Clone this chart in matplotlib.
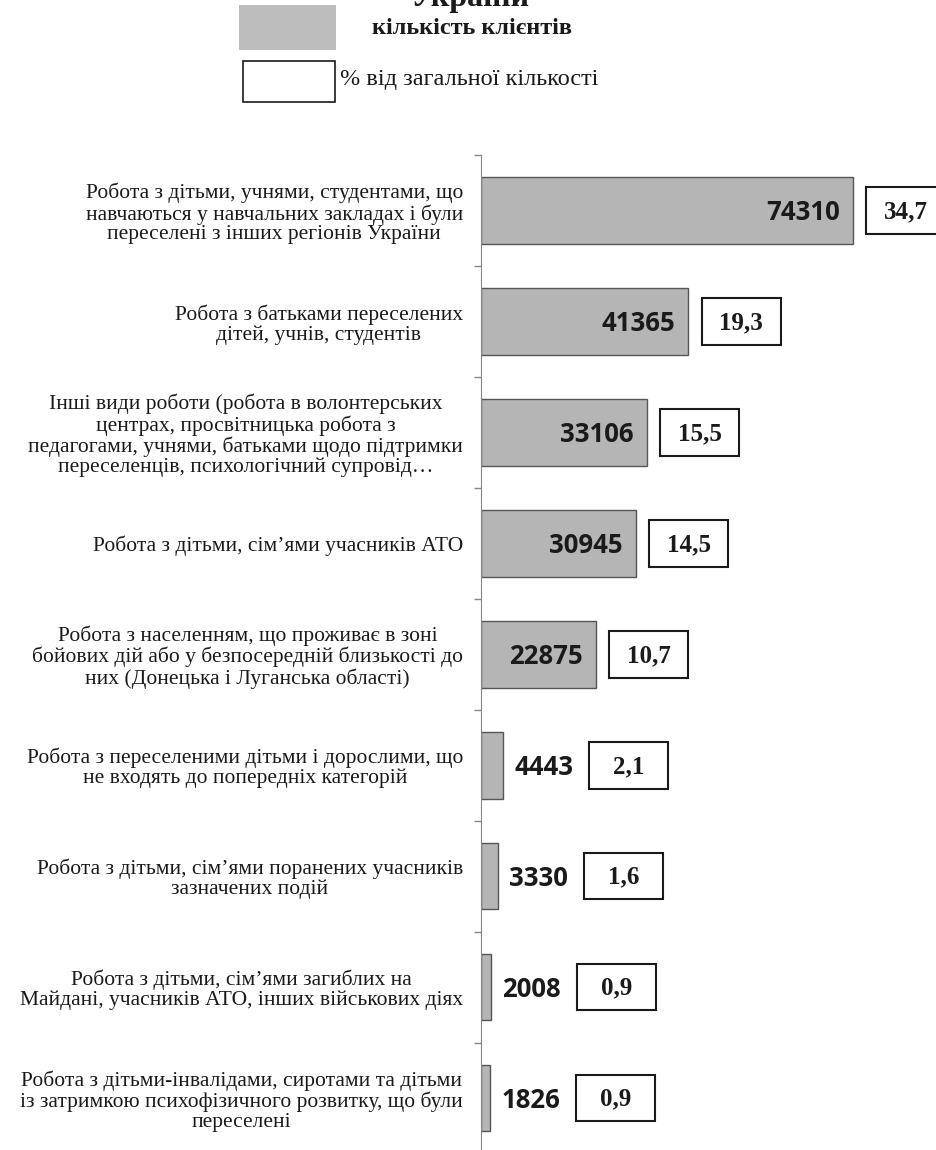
import numpy as np
import matplotlib
matplotlib.use("Agg")
import matplotlib.pyplot as plt
from matplotlib.patches import Rectangle

# data
categories = [
    "Робота з дітьми, учнями, студентами, що\nнавчаються у навчальних закладах і були\nпереселені з інших регіонів України",
    "Робота з батьками переселених\nдітей, учнів, студентів",
    "Інші види роботи (робота в волонтерських\nцентрах, просвітницька робота з\nпедагогами, учнями, батьками щодо підтримки\nпереселенців, психологічний супровід…",
    "Робота з дітьми, сім’ями учасників АТО",
    "Робота з населенням, що проживає в зоні\nбойових дій або у безпосередній близькості до\nних (Донецька і Луганська області)",
    "Робота з переселеними дітьми і дорослими, що\nне входять до попередніх категорій",
    "Робота з дітьми, сім’ями поранених учасників\nзазначених подій",
    "Робота з дітьми, сім’ями загиблих на\nМайдані, учасників АТО, інших військових діях",
    "Робота з дітьми-інвалідами, сиротами та дітьми\nіз затримкою психофізичного розвитку, що були\nпереселені",
]
clients = [74310, 41365, 33106, 30945, 22875, 4443, 3330, 2008, 1826]
percent = ["34,7", "19,3", "15,5", "14,5", "10,7", "2,1", "1,6", "0,9", "0,9"]

legend_labels = ["кількість клієнтів", "% від загальної кількості"]
title = "України"

serif = "Liberation Serif"
bar_color = "#b5b5b5"

fig = plt.figure(figsize=(9.36, 11.5), dpi=100)
ax = fig.add_axes([0.514, -0.003, 0.486, 0.868])

y = np.arange(len(clients))
ax.barh(y, clients, height=0.6, color=bar_color, edgecolor="#555555", linewidth=1)

ax.set_xlim(0, 90900)
ax.set_ylim(len(clients) - 0.5, -0.5)

# category labels at bar centres, small ticks at the boundaries
ax.set_yticks(y)
ax.set_yticklabels(categories, fontfamily=serif, fontsize=15.5, linespacing=1.05,
                   multialignment="center", color="#1a1a1a")
ax.tick_params(axis="y", which="major", length=0, pad=13)
ax.set_yticks(np.arange(-0.5, len(clients), 1), minor=True)
ax.tick_params(axis="y", which="minor", length=5, color="#888888", width=1)
ax.set_xticks([])
for s in ["top", "right", "bottom"]:
    ax.spines[s].set_visible(False)
ax.spines["left"].set_color("#888888")

box_w = 15780
box_h = 0.42
for i, (v, p) in enumerate(zip(clients, percent)):
    if v > 10000:
        ax.text(v - 2600, i + 0.02, str(v), ha="right", va="center",
                fontfamily="Open Sans", fontweight="bold", fontsize=18.5, color="#1a1a1a")
        bx = v + 2700
    else:
        ax.text(v + 2200, i + 0.02, str(v), ha="left", va="center",
                fontfamily="Open Sans", fontweight="bold", fontsize=18.5, color="#1a1a1a")
        bx = v + 17200
    ax.add_patch(Rectangle((bx, i - box_h / 2), box_w, box_h, facecolor="white",
                           edgecolor="#1a1a1a", linewidth=1.5, clip_on=False))
    ax.text(bx + box_w / 2, i + 0.01, p, ha="center", va="center", fontfamily=serif,
            fontweight="bold", fontsize=18, color="#1a1a1a", clip_on=False)

# legend drawn by hand, like in the picture
fig.patches.append(Rectangle((239 / 936, 1 - 50 / 1150), 97 / 936, 45 / 1150,
                             transform=fig.transFigure, facecolor="#bdbdbd",
                             edgecolor="none"))
fig.patches.append(Rectangle((243 / 936, 1 - 102 / 1150), 92 / 936, 41 / 1150,
                             transform=fig.transFigure, facecolor="white",
                             edgecolor="#1a1a1a", linewidth=1.2))
fig.text(372 / 936, 1 - 28 / 1150, legend_labels[0], ha="left", va="center",
         fontfamily=serif, fontweight="bold", fontsize=17.5, color="#1a1a1a")
fig.text(340 / 936, 1 - 80 / 1150, legend_labels[1], ha="left", va="center",
         fontfamily=serif, fontsize=17.5, color="#1a1a1a")
fig.text(470 / 936, 1 - 6 / 1150, title, ha="center", va="baseline",
         fontfamily=serif, fontweight="bold", fontsize=23, color="#1a1a1a")

fig.savefig("out.png", dpi=100, facecolor="white")
